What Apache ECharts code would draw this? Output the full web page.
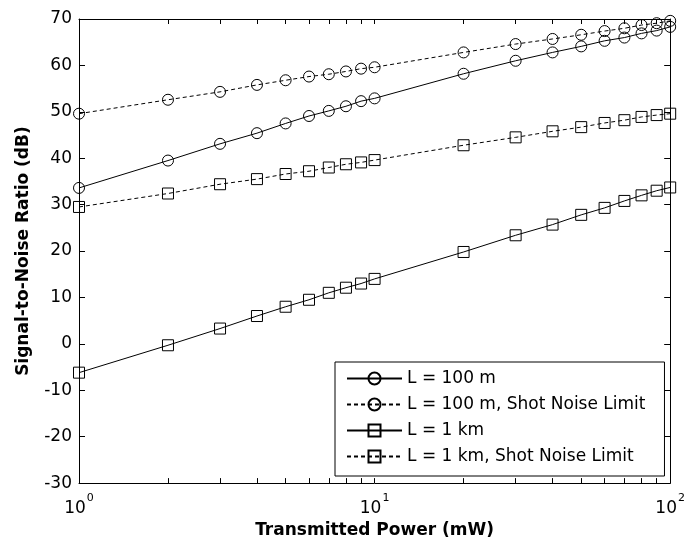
<!DOCTYPE html>
<html>
<head>
<meta charset="utf-8">
<script src="https://cdn.jsdelivr.net/npm/echarts@6/dist/echarts.min.js"></script>
<style>html,body{margin:0;padding:0;background:#fff;}#c{width:688px;height:544px;}</style>
</head>
<body>
<div id="c"></div>
<script>
// Transmitted power (mW)
const power = [1, 2, 3, 4, 5, 6, 7, 8, 9, 10, 20, 30, 40, 50, 60, 70, 80, 90, 100];
// SNR (dB)
const snr100m = [33.6, 39.5, 43.1, 45.4, 47.5, 49.1, 50.2, 51.2, 52.3, 52.9, 58.2, 61.0, 62.8, 64.1, 65.3, 66.0, 66.9, 67.5, 68.3];
const snr100mShot = [49.6, 52.6, 54.3, 55.8, 56.8, 57.6, 58.1, 58.7, 59.3, 59.6, 62.8, 64.6, 65.7, 66.6, 67.4, 68.0, 68.7, 69.1, 69.6];
const snr1km = [-6.2, -0.3, 3.3, 6.0, 8.0, 9.5, 11.0, 12.1, 13.0, 14.0, 19.8, 23.4, 25.7, 27.8, 29.3, 30.8, 32.0, 33.0, 33.7];
const snr1kmShot = [29.5, 32.4, 34.4, 35.5, 36.6, 37.2, 38.0, 38.7, 39.1, 39.6, 42.8, 44.5, 45.8, 46.7, 47.6, 48.2, 48.9, 49.3, 49.6];
const seriesNames = ['L = 100 m', 'L = 100 m, Shot Noise Limit', 'L = 1 km', 'L = 1 km, Shot Noise Limit'];
const xTickValues = [1, 2, 3, 4, 5, 6, 7, 8, 9, 10, 20, 30, 40, 50, 60, 70, 80, 90, 100];
const xLabelValues = [1, 10, 100];
const yMin = -30, yMax = 70, yStep = 10;

const FONT = 'DejaVu Sans';
function pairs(ys) { return power.map((p, i) => [p, ys[i]]); }
function mk(name, ys, symbol, dashed) {
  return {
    name: name, type: 'line', data: pairs(ys),
    symbol: symbol, symbolSize: 11,
    itemStyle: { color: 'transparent', borderColor: '#000', borderWidth: 1 },
    lineStyle: { color: '#000', width: 1, type: dashed ? [4, 3] : 'solid' },
    emphasis: { disabled: true }, animation: false, z: 3
  };
}
const xCommon = {
  type: 'log', logBase: 10, min: 1, max: 100,
  axisLine: { show: true, onZero: false, lineStyle: { color: '#000', width: 1 } },
  axisTick: { show: true, inside: true, length: 5, customValues: xTickValues, lineStyle: { color: '#000' } },
  splitLine: { show: false }, minorTick: { show: false }
};
const yCommon = {
  type: 'value', min: yMin, max: yMax, interval: yStep,
  axisLine: { show: true, onZero: false, lineStyle: { color: '#000', width: 1 } },
  axisTick: { show: true, inside: true, length: 6, lineStyle: { color: '#000' } },
  splitLine: { show: false }
};
const chart = echarts.init(document.getElementById('c'), null, { renderer: 'canvas' });
chart.setOption({
  backgroundColor: '#fff',
  animation: false,
  grid: { left: 79, right: 11, top: 19, bottom: 58, containLabel: false },
  xAxis: [
    Object.assign({}, xCommon, {
      position: 'bottom',
      name: 'Transmitted Power (mW)', nameLocation: 'middle', nameGap: 35,
      nameTextStyle: { fontFamily: FONT, fontWeight: 'bold', fontSize: 17, color: '#000' },
      axisLabel: {
        show: true, customValues: xLabelValues, margin: 10,
        formatter: function (v) { return '{b|10}{s|' + Math.round(Math.log10(v)) + '}'; },
        rich: {
          b: { fontFamily: FONT, fontSize: 17, color: '#000', verticalAlign: 'bottom', lineHeight: 24 },
          s: { fontFamily: FONT, fontSize: 11, color: '#000', verticalAlign: 'top', padding: [0, 0, 0, 1] }
        }
      }
    }),
    Object.assign({}, xCommon, { position: 'top', axisLabel: { show: false } })
  ],
  yAxis: [
    Object.assign({}, yCommon, {
      position: 'left',
      name: 'Signal-to-Noise Ratio (dB)', nameLocation: 'middle', nameGap: 47,
      nameTextStyle: { fontFamily: FONT, fontWeight: 'bold', fontSize: 17, color: '#000' },
      axisLabel: { show: true, margin: 7, fontFamily: FONT, fontSize: 17, color: '#000' }
    }),
    Object.assign({}, yCommon, { position: 'right', axisLabel: { show: false } })
  ],
  legend: {
    show: true, orient: 'vertical', left: 335, top: 362,
    data: seriesNames, selectedMode: false,
    itemWidth: 55, itemHeight: 15, itemGap: 9,
    padding: [8, 19, 11, 11],
    backgroundColor: '#fff', borderColor: '#000', borderWidth: 1, borderRadius: 0,
    textStyle: { fontFamily: FONT, fontSize: 17, color: '#000' }
  },
  series: [
    mk(seriesNames[0], snr100m, 'circle', false),
    mk(seriesNames[1], snr100mShot, 'circle', true),
    mk(seriesNames[2], snr1km, 'rect', false),
    mk(seriesNames[3], snr1kmShot, 'rect', true)
  ]
});
</script>
</body>
</html>
